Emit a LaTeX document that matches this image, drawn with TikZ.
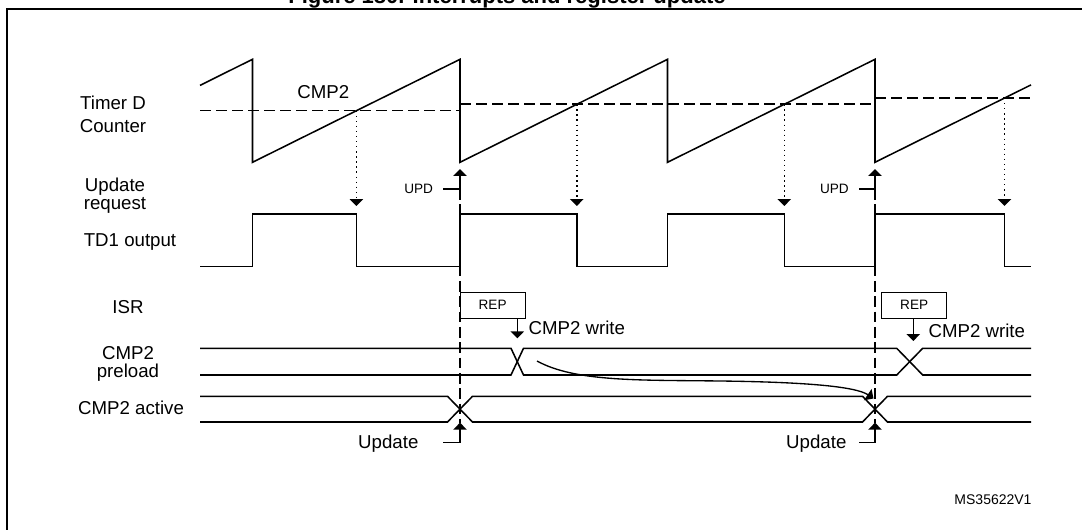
\documentclass[tikz,border=0pt]{standalone}
\usepackage{fontspec}
\setmainfont{Liberation Sans}
\usetikzlibrary{arrows.meta}
\begin{document}
\begin{tikzpicture}[x=0.75pt,y=-0.75pt,
  sig/.style={line width=1.15pt, line join=miter},
  thin/.style={line width=1pt},
  lvl/.style={line width=1.2pt, dash pattern=on 8pt off 4pt},
  vdash/.style={line width=1.1pt, dash pattern=on 8pt off 3.5pt},
  dotl/.style={line width=1.1pt, dash pattern=on 1pt off 2.8pt},
  tipd/.style={-{Triangle[width=10pt,length=5.2pt]}},
  big/.style={font=\fontsize{14}{16}\selectfont, inner sep=0pt},
  small/.style={font=\fontsize{10.2}{12}\selectfont, inner sep=0pt},
  repbox/.style={draw, line width=0.6pt, minimum width=49pt, minimum height=19.5pt, inner sep=0pt, font=\fontsize{10.2}{12}\selectfont},
]
\useasboundingbox (0,0) rectangle (1082,530);
\fill[white] (0,0) rectangle (1082,530);
% frame and cut title
\node[anchor=base, inner sep=0pt, font=\bfseries\fontsize{16.5}{18}\selectfont] (title) at (507,3.5) {Figure 180. Interrupts and register update};
\draw[line width=1.5pt] (7.3,545) -- (7.3,9) -- (1095,9);

% left labels
\node[big, anchor=base] (lt1) at (113,110) {Timer D};
\node[big, anchor=base] (lt2) at (113,133) {Counter};
\node[big, anchor=base] (lu1) at (115,191.7) {Update};
\node[big, anchor=base] (lu2) at (115,210) {request};
\node[big, anchor=base] (ltd) at (130,246.7) {TD1 output};
\node[big, anchor=base] (lisr) at (128,313.3) {ISR};
\node[big, anchor=base] (lp1) at (128,360) {CMP2};
\node[big, anchor=base] (lp2) at (128,378) {preload};
\node[big, anchor=base] (lact) at (131,415) {CMP2 active};

% counter sawtooth
\draw[sig] (200,85.4) -- (252.5,59.3) -- (252.5,162.3) -- (460,59.3) -- (460,162.3)
  -- (667.5,59.3) -- (667.5,162.3) -- (875,59.3) -- (875,162.3) -- (1031,84.9);
\draw[lvl] (200,110.7) -- (460,110.7);
\draw[lvl] (460,104.3) -- (875,104.3);
\draw[lvl] (875,98) -- (1031,98);
\node[big] (cmplbl) at (323.3,92.3) {CMP2};

% compare events
\coordinate (c1) at (356.4,110.7); \coordinate (e1) at (356.4,206);
\coordinate (c2) at (576.8,104.3); \coordinate (e2) at (576.8,206);
\coordinate (c3) at (784.3,104.3); \coordinate (e3) at (784.3,206);
\coordinate (c4) at (1004.5,98);   \coordinate (e4) at (1004.5,206);
\foreach \i in {1,2,3,4} {\draw[dotl, tipd] (c\i) -- (e\i);}

% TD1 output
\draw[sig] (200,266.7) -- (252.5,266.7) -- (252.5,214) -- (356.4,214) -- (356.4,266.7)
  -- (460,266.7) -- (460,214) -- (576.8,214) -- (576.8,266.7) -- (667.5,266.7)
  -- (667.5,214) -- (784.3,214) -- (784.3,266.7) -- (875,266.7) -- (875,214)
  -- (1004.5,214) -- (1004.5,266.7) -- (1031,266.7);

% UPD arrows and update lines
\node[small, anchor=east] (upd1) at (433.3,189) {UPD};
\node[small, anchor=east] (upd2) at (849,189) {UPD};
\coordinate (u1) at (460,169); \coordinate (u2) at (875,169);
\coordinate (d1) at (460,189); \coordinate (d2) at (875,189);
\coordinate (a1) at (460,422.7); \coordinate (a2) at (875,422.7);
\draw[vdash] (d1) -- (a1);
\draw[vdash] (d2) -- (a2);
\draw[thin, tipd] ([xshift=7.5pt]upd1.east) -- (d1) -- (u1);
\draw[thin, tipd] ([xshift=7.5pt]upd2.east) -- (d2) -- (u2);

\node[big, anchor=base east] (up1) at (418.7,448.3) {Update};
\node[big, anchor=base east] (up2) at (846.7,448.3) {Update};
\coordinate (b1) at (460,442.3); \coordinate (b2) at (875,442.3);
\draw[thin, tipd] (443.3,442.3) -- (b1) -- (a1);
\draw[thin, tipd] (859,442.3) -- (b2) -- (a2);

% ISR
\node[repbox] (rep1) at (492.65,305.3) {REP};
\node[repbox] (rep2) at (914.2,305.3) {REP};
\coordinate (w1) at (517.3,338.3); \coordinate (w2) at (913.3,341);
\draw[thin, tipd] (rep1.south -| w1) -- (w1);
\draw[thin, tipd] (rep2.south -| w2) -- (w2);
\node[big, anchor=west] (cw1) at (528.3,328.3) {CMP2 write};
\node[big, anchor=west] (cw2) at (928.3,331) {CMP2 write};

% CMP2 preload bus
\draw[sig] (200,348.3) -- (511,348.3) -- (523.5,375) -- (896.7,375) -- (922.7,348.3) -- (1031,348.3);
\draw[sig] (200,375) -- (511,375) -- (523.5,348.3) -- (896.7,348.3) -- (922.7,375) -- (1031,375);

% CMP2 active bus
\draw[sig] (200,396.3) -- (447.5,396.3) -- (472.5,422) -- (862.5,422) -- (887.5,396.3) -- (1031,396.3);
\draw[sig] (200,422) -- (447.5,422) -- (472.5,396.3) -- (862.5,396.3) -- (887.5,422) -- (1031,422);

% transfer arrow
\coordinate (cs) at (537,361); \coordinate (ce) at (873.5,398.5);
\draw[thin, tipd] (cs) .. controls (575,382) and (640,380) .. (720,381)
  .. controls (800,382) and (855,386) .. (ce);

\node[inner sep=0pt, anchor=base, font=\fontsize{10.5}{12}\selectfont] (ms) at (993,505) {MS35622V1};
\end{tikzpicture}
\end{document}
